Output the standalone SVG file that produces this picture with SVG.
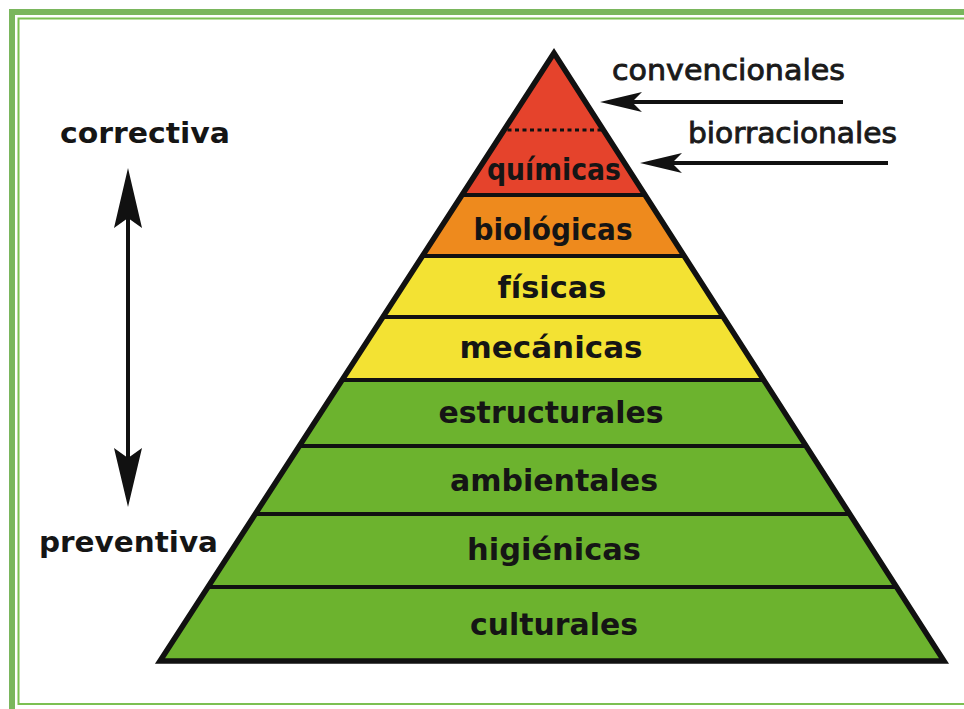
<svg xmlns="http://www.w3.org/2000/svg" width="964" height="709" viewBox="0 0 964 709">
  <style>
    .lbl { font-family: "DejaVu Sans", "Liberation Sans", sans-serif; font-weight: bold; font-size: 30px; fill: #151515; text-anchor: middle; }
    .side { font-family: "DejaVu Sans", "Liberation Sans", sans-serif; font-weight: bold; font-size: 28px; fill: #151515; }
    .note { font-family: "DejaVu Sans", "Liberation Sans", sans-serif; font-size: 29px; fill: #1a1a1a; stroke: #1a1a1a; stroke-width: 0.9; }
    .sep { stroke: #111; stroke-width: 4; }
    .arr { stroke: #111; stroke-width: 4; fill: none; }
    .head { fill: #111; }
  </style>
  <defs>
    <clipPath id="pyr">
      <polygon points="554,53 160,661 944,661"/>
    </clipPath>
  </defs>
  <rect width="964" height="709" fill="#ffffff"/>
  <!-- frame -->
  <g id="frame">
    <rect x="12" y="12" width="980" height="720" fill="none" stroke="#7ab65d" stroke-width="6"/>
    <rect x="18.5" y="18.5" width="980" height="685.5" fill="none" stroke="#7cc052" stroke-width="2"/>
  </g>
  <!-- pyramid bands -->
  <g clip-path="url(#pyr)">
    <g id="quimicas"><rect x="0" y="0" width="964" height="195" fill="#e5432c"/></g>
    <g id="biologicas"><rect x="0" y="195" width="964" height="61" fill="#ee8a1d"/></g>
    <g id="fisicas"><rect x="0" y="256" width="964" height="61" fill="#f3e233"/></g>
    <g id="mecanicas"><rect x="0" y="317" width="964" height="63" fill="#f3e233"/></g>
    <g id="estructurales"><rect x="0" y="380" width="964" height="66" fill="#6cb32e"/></g>
    <g id="ambientales"><rect x="0" y="446" width="964" height="68" fill="#6cb32e"/></g>
    <g id="higienicas"><rect x="0" y="514" width="964" height="73" fill="#6cb32e"/></g>
    <g id="culturales"><rect x="0" y="587" width="964" height="80" fill="#6cb32e"/></g>
    <line x1="0" y1="195" x2="964" y2="195" class="sep"/>
    <line x1="0" y1="256" x2="964" y2="256" class="sep"/>
    <line x1="0" y1="317" x2="964" y2="317" class="sep"/>
    <line x1="0" y1="380" x2="964" y2="380" class="sep"/>
    <line x1="0" y1="446" x2="964" y2="446" class="sep"/>
    <line x1="0" y1="514" x2="964" y2="514" class="sep"/>
    <line x1="0" y1="587" x2="964" y2="587" class="sep"/>
    <line x1="500" y1="130" x2="610" y2="130" stroke="#111" stroke-width="3" stroke-dasharray="4 3.5"/>
  </g>
  <polygon points="554,53 160,661 944,661" fill="none" stroke="#111" stroke-width="5.5" stroke-linejoin="miter"/>
  <!-- labels -->
  <text class="lbl" x="554" y="180" font-size="28" textLength="134" lengthAdjust="spacingAndGlyphs">químicas</text>
  <text class="lbl" x="553" y="240" textLength="159" lengthAdjust="spacingAndGlyphs">biológicas</text>
  <text class="lbl" x="552" y="298" textLength="109" lengthAdjust="spacingAndGlyphs">físicas</text>
  <text class="lbl" x="551" y="358" textLength="183" lengthAdjust="spacingAndGlyphs">mecánicas</text>
  <text class="lbl" x="551" y="423" textLength="225" lengthAdjust="spacingAndGlyphs">estructurales</text>
  <text class="lbl" x="554" y="491" textLength="208" lengthAdjust="spacingAndGlyphs">ambientales</text>
  <text class="lbl" x="554" y="560" textLength="174" lengthAdjust="spacingAndGlyphs">higiénicas</text>
  <text class="lbl" x="554" y="635" textLength="168" lengthAdjust="spacingAndGlyphs">culturales</text>
  <text class="side" x="60" y="143" textLength="170" lengthAdjust="spacingAndGlyphs">correctiva</text>
  <text class="side" x="39" y="552" textLength="179" lengthAdjust="spacingAndGlyphs">preventiva</text>
  <text class="note" x="612" y="80" textLength="233" lengthAdjust="spacingAndGlyphs">convencionales</text>
  <text class="note" x="688" y="143" textLength="209" lengthAdjust="spacingAndGlyphs">biorracionales</text>
  <!-- connectors -->
  <g id="connectors">
    <line class="arr" x1="128" y1="215" x2="128" y2="462"/>
    <polygon class="head" points="128,168 142,228 128,218 114,228"/>
    <polygon class="head" points="128,507 142,448 128,458 114,448"/>
    <line class="arr" x1="625" y1="102" x2="843" y2="102"/>
    <polygon class="head" points="600,102 642,92 632,102 642,112"/>
    <line class="arr" x1="665" y1="163" x2="888" y2="163"/>
    <polygon class="head" points="640,163 682,153 672,163 682,173"/>
  </g>
</svg>
